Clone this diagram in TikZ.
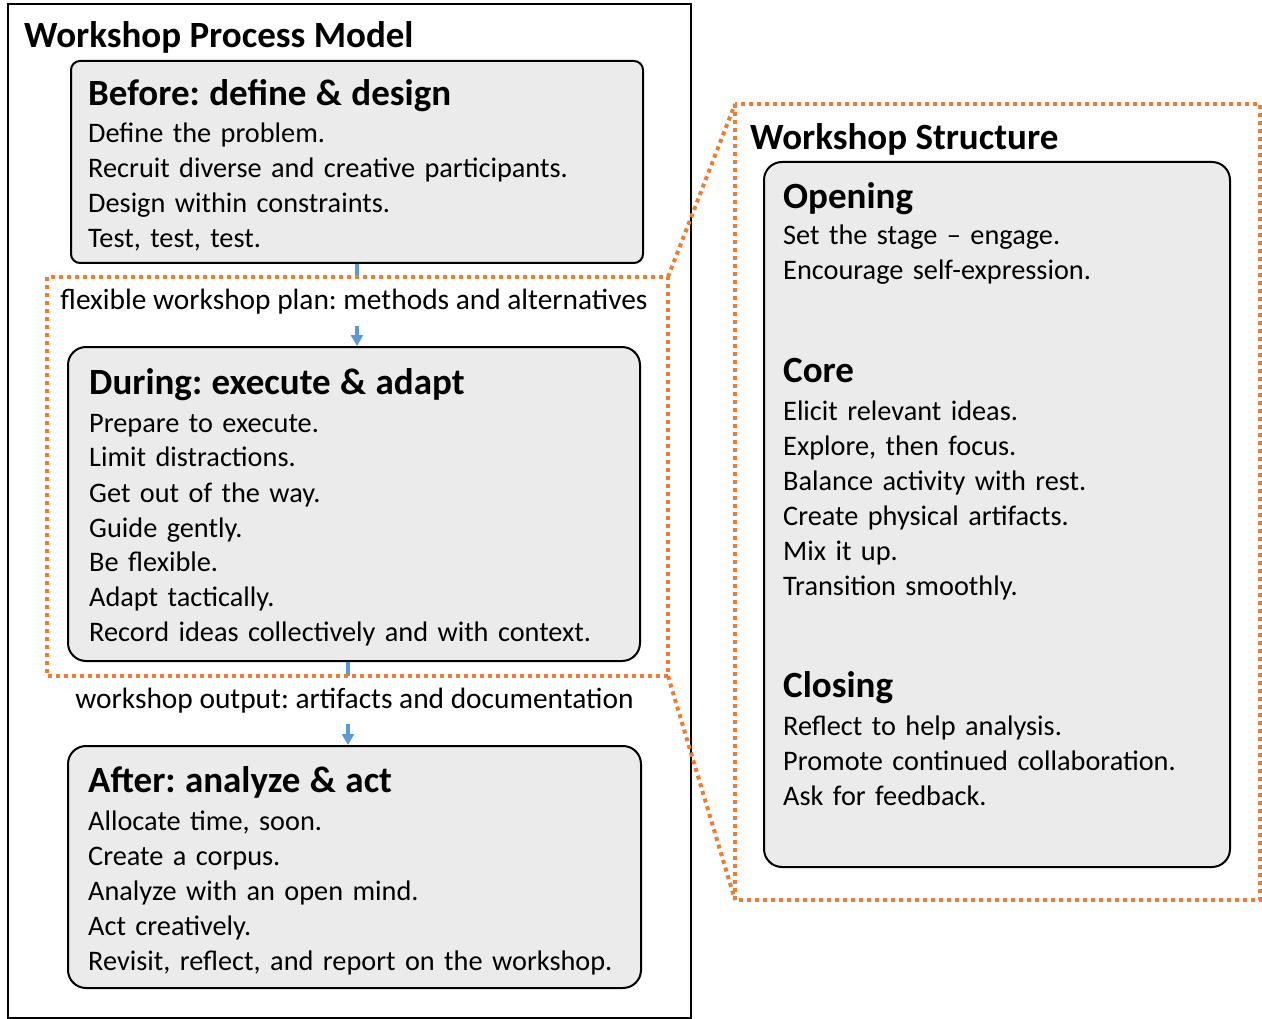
\documentclass[tikz,border=0pt]{standalone}
\usepackage{fontspec}
\setmainfont{Carlito}
\usetikzlibrary{arrows.meta}
\frenchspacing

\definecolor{stagegray}{RGB}{235,235,235}
\definecolor{linkblue}{RGB}{91,155,213}
\definecolor{zoomorange}{RGB}{237,125,49}
\newcommand{\stagehead}[1]{{\fontsize{37}{35}\selectfont\bfseries #1}}

\begin{document}
\begin{tikzpicture}[
  x=1pt, y=-1pt,
  font=\fontsize{28.3}{35}\selectfont,
  stagebox/.style={draw, line width=2pt, fill=stagegray, rounded corners=18pt,
    anchor=north west, inner sep=0pt},
  stagetext/.style={anchor=base west, inner sep=0pt, text width=#1, align=left},
  flow/.style={linkblue, line width=3.5pt, -{Triangle[width=12pt,length=11pt]}},
  flowlabel/.style={fill=white, text=black, inner xsep=2pt, inner ysep=0pt,
    minimum height=48pt, font=\fontsize{29.4}{35}\selectfont},
  zoomline/.style={zoomorange, line width=4pt, dash pattern=on 4pt off 4pt}
]
\useasboundingbox (0,0) rectangle (1262,1019);

% process model frame
\draw[line width=2pt] (8,4) rectangle (691,1018);
\node[anchor=base west, inner sep=0pt] (model title) at (24,48)
  {\stagehead{Workshop Process Model}};

% the three stages
\node[stagebox, rounded corners=9pt, minimum width=572pt, minimum height=202pt]
  (before) at (70,60) {};
\node[stagetext=540pt] (before text) at (88,106)
  {\stagehead{Before: define \& design}\\[2pt]
   Define the problem.\\
   Recruit diverse and creative participants.\\
   Design within constraints.\\
   Test, test, test.};

\node[stagebox, minimum width=572pt, minimum height=314pt] (during) at (67,346) {};
\node[stagetext=540pt] (during text) at (89,394)
  {\stagehead{During: execute \& adapt}\\[3pt]
   Prepare to execute.\\
   Limit distractions.\\
   Get out of the way.\\
   Guide gently.\\
   Be flexible.\\
   Adapt tactically.\\
   Record ideas collectively and with context.};

\node[stagebox, minimum width=573pt, minimum height=242pt] (after) at (67,745) {};
\node[stagetext=540pt] (after text) at (88,792)
  {\stagehead{After: analyze \& act}\\[3pt]
   Allocate time, soon.\\
   Create a corpus.\\
   Analyze with an open mind.\\
   Act creatively.\\
   Revisit, reflect, and report on the workshop.};

% links between stages
\draw[flow] (before.south) -- (before.south |- during.north)
  node[flowlabel, pos=0.46, xshift=-3pt] (plan label)
  {flexible workshop plan: methods and alternatives};
\draw[flow] ([xshift=-6pt]during.south) -- ([xshift=-6pt]during.south |- after.north)
  node[flowlabel, pos=0.46, xshift=6.5pt] (output label)
  {workshop output: artifacts and documentation};

% workshop structure
\node[anchor=base west, inner sep=0pt] (structure title) at (750,150)
  {\stagehead{Workshop Structure}};
\node[stagebox, minimum width=466pt, minimum height=705pt] (structure) at (763,161) {};
\node[stagetext=440pt] (structure text) at (783,209)
  {\stagehead{Opening}\\[1pt]
   Set the stage -- engage.\\
   Encourage self-expression.\\[68pt]
   \stagehead{Core}\\[3pt]
   Elicit relevant ideas.\\
   Explore, then focus.\\
   Balance activity with rest.\\
   Create physical artifacts.\\
   Mix it up.\\
   Transition smoothly.\\[67pt]
   \stagehead{Closing}\\[3pt]
   Reflect to help analysis.\\
   Promote continued collaboration.\\
   Ask for feedback.};

% zoom from the during stage to the structure
\draw[zoomline] (47,277) rectangle (668,676);
\draw[zoomline] (735,104) rectangle (1260,900);
\draw[zoomline] (668,277) -- (735,104) (668,676) -- (735,900);
\end{tikzpicture}
\end{document}
